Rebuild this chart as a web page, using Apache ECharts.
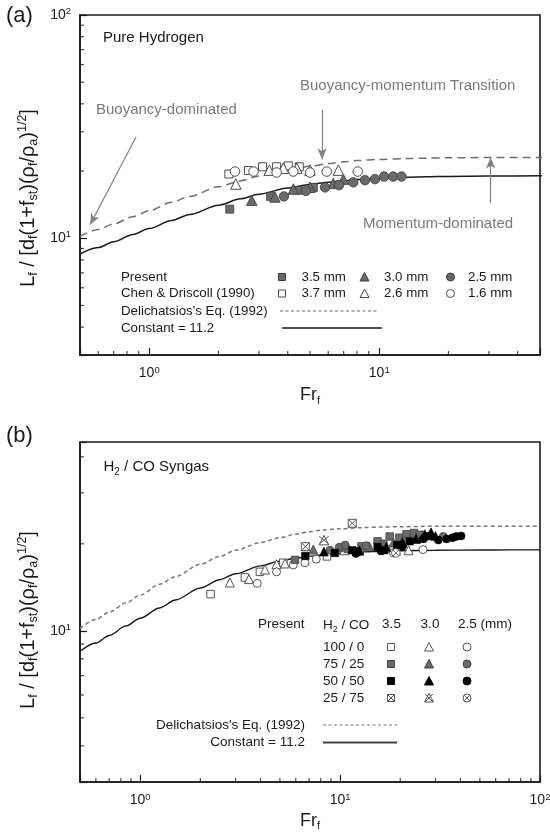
<!DOCTYPE html>
<html><head><meta charset="utf-8">
<script src="https://cdn.jsdelivr.net/npm/echarts@6/dist/echarts.min.js"></script>
<style>html,body{margin:0;padding:0;background:#fff}#c{width:550px;height:839px}</style>
</head><body><div id="c"></div>
<script>
const FONT = '"Liberation Sans", Arial, Helvetica, sans-serif';

// ---------- axis ranges & tick values ----------
const xRangeA = [0.5, 50];
const yRangeA = [3, 100];
const xRangeB = [0.5, 100];
const yRangeB = [3, 45];
const xMinorA = [0.6, 0.7, 0.8, 0.9, 2, 3, 4, 5, 6, 7, 8, 9, 20, 30, 40];
const yMinorA = [4, 5, 6, 7, 8, 9, 20, 30, 40, 50, 60, 70, 80, 90];
const xMinorB = [0.6, 0.7, 0.8, 0.9, 2, 3, 4, 5, 6, 7, 8, 9, 20, 30, 40, 50, 60, 70, 80, 90];
const yMinorB = [4, 5, 6, 7, 8, 9, 20, 30, 40];

// ---------- model curves ----------
const curveFr       = [0.5, 0.6, 0.7, 0.85, 1, 1.25, 1.5, 2, 2.5, 3, 4, 5, 6, 7, 8, 10, 13, 16, 20, 30, 50, 70, 100];
const delichatsiosY = [10.2, 10.95, 11.6, 12.5, 13.3, 14.5, 15.4, 17.0, 18.1, 19.0, 20.2, 21.0, 21.6, 22.0, 22.3, 22.55, 22.75, 22.85, 22.92, 23.0, 23.0, 23.0, 23.0];
const constantY     = [8.5, 9.08, 9.64, 10.4, 11.05, 12.0, 12.78, 14.07, 15.03, 15.76, 16.78, 17.42, 17.83, 18.11, 18.31, 18.56, 18.75, 18.86, 18.93, 19.0, 19.04, 19.05, 19.05];

// ---------- panel (a): pure hydrogen ----------
const presentA35 = [[2.24, 13.5], [3.37, 15.4], [4.45, 16.4], [5.17, 16.9]];
const presentA30 = [[2.79, 14.8], [3.52, 15.3], [4.23, 16.6], [5.0, 16.9], [6.31, 17.6], [6.98, 18.4]];
const presentA25 = [[3.85, 15.4], [4.8, 16.3], [5.81, 16.9], [6.69, 17.3], [7.71, 17.8], [8.67, 18.2], [9.58, 18.4], [10.5, 18.9], [11.5, 18.9], [12.5, 18.9]];
const chenA37 = [[2.22, 19.4], [2.7, 20.1], [3.11, 20.9], [3.58, 20.9], [4.02, 21.1], [4.49, 20.9]];
const chenA26 = [[2.38, 17.5], [3.33, 20.2], [3.83, 20.6], [4.38, 20.6], [5.0, 20.2], [6.64, 20.2]];
const chenA16 = [[2.36, 19.9], [2.84, 19.9], [3.58, 19.7], [4.23, 19.9], [5.0, 19.7], [5.91, 19.9], [8.06, 19.9]];
const arrowsA = [
  [[0.876, 28.4], [0.553, 11.5]],
  [[5.64, 37.5], [5.64, 22.6]],
  [[30.5, 14.4], [30.5, 23.0]]
];

// ---------- panel (b): H2/CO syngas ----------
const b100_35 = [[2.25, 13.4], [3.34, 15.3], [3.97, 16.0], [5.2, 17.2], [8.6, 18.1], [12.5, 18.8], [17.0, 19.2]];
const b100_30 = [[2.81, 14.7], [3.5, 15.1], [4.21, 16.3], [4.81, 17.0], [5.3, 17.1], [10.5, 19.0], [19.0, 18.9], [22.0, 19.0]];
const b100_25 = [[3.85, 14.6], [4.81, 16.0], [5.83, 16.9], [6.67, 17.2], [7.6, 17.7], [12.0, 18.6], [18.5, 18.6], [26.0, 19.1]];
const b75_35  = [[5.95, 17.6], [10.2, 19.4], [12.8, 19.6], [15.4, 20.4], [17.7, 21.2], [19.8, 21.0], [21.5, 21.6], [23.4, 21.8], [25.0, 21.5]];
const b75_30  = [[7.34, 19.1], [11.0, 19.3], [14.0, 19.6], [18.5, 20.2], [24.0, 20.9], [28.5, 21.8]];
const b75_25  = [[8.9, 19.0], [9.9, 19.45], [10.6, 19.8], [13.5, 19.7], [16.5, 20.0], [21.0, 20.5], [27.0, 21.2], [32.8, 21.2]];
const b50_35  = [[6.7, 18.15], [9.42, 18.6], [11.5, 19.0], [12.1, 18.8], [15.4, 19.5], [16.6, 19.0], [19.3, 19.8], [22.3, 20.4]];
const b50_30  = [[8.3, 18.8], [12.5, 19.0], [17.0, 19.5], [20.5, 20.2], [24.0, 20.8], [26.5, 21.6], [28.5, 21.9], [30.0, 21.3]];
const b50_25  = [[12.0, 18.5], [16.0, 18.9], [20.5, 19.6], [26.1, 20.8], [28.1, 21.3], [31.0, 20.6], [34.1, 20.8], [36.5, 21.0], [38.1, 21.2], [40.3, 21.3]];
const b25_35  = [[6.7, 19.55], [11.5, 23.55]];
const b25_30  = [[8.3, 20.6]];
const b25_25  = [[19.0, 18.6]];

// ---------- helpers ----------
const zip = (xs, ys) => xs.map((x, i) => [x, ys[i]]);
function powLabel(v) {
  const l = Math.log10(v);
  if (Math.abs(l - Math.round(l)) > 1e-6) return '';
  return '10{s|' + Math.round(l) + '}';
}
const INK = '#1a1a1a';
const supRich = { s: { fontSize: 9.5, verticalAlign: 'top', padding: [0, 0, 5, 0], fontFamily: FONT, color: INK } };

function xAxisCfg(grid, range, nameGap) {
  return {
    gridIndex: grid, type: 'log', logBase: 10, min: range[0], max: range[1],
    axisLine: { show: true, onZero: false, lineStyle: { color: INK, width: 1.6 } },
    axisTick: { show: true, inside: true, length: 7, lineStyle: { color: INK, width: 1.2 } },
    axisLabel: { show: true, formatter: powLabel, margin: 10, color: INK, fontSize: 14, fontFamily: FONT, lineHeight: 17, rich: supRich, hideOverlap: false },
    splitLine: { show: false }, minorTick: { show: false },
    name: 'Fr{s|f}', nameLocation: 'middle', nameGap: nameGap,
    nameTextStyle: { fontSize: 18, fontFamily: FONT, color: INK, lineHeight: 22,
      rich: { s: { fontSize: 11, verticalAlign: 'bottom', lineHeight: 11, fontFamily: FONT, color: INK } } }
  };
}
function yAxisCfg(grid, range) {
  return {
    gridIndex: grid, type: 'log', logBase: 10, min: range[0], max: range[1],
    axisLine: { show: true, onZero: false, lineStyle: { color: INK, width: 1.6 } },
    axisTick: { show: true, inside: true, length: 7, lineStyle: { color: INK, width: 1.2 } },
    axisLabel: { show: true, formatter: powLabel, margin: 9, color: INK, fontSize: 14, fontFamily: FONT, lineHeight: 17, rich: supRich, hideOverlap: false },
    splitLine: { show: false }, minorTick: { show: false }
  };
}
function tickSeries(idx, pts, size, offset) {
  return { type: 'scatter', xAxisIndex: idx, yAxisIndex: idx, data: pts, symbol: 'rect',
    symbolSize: size, symbolOffset: offset, itemStyle: { color: INK }, silent: true, clip: false, z: 6 };
}
function lineSeries(idx, name, ys, color, width, dash, extra) {
  return Object.assign({ type: 'line', name: name, xAxisIndex: idx, yAxisIndex: idx, data: zip(curveFr, ys),
    symbol: 'none', smooth: 0.3, smoothMonotone: 'x', silent: true,
    lineStyle: { color: color, width: width, type: dash } }, extra || {});
}
function scat(idx, name, data, symbol, size, fill, stroke, bw) {
  return { type: 'scatter', name: name, xAxisIndex: idx, yAxisIndex: idx, data: data, symbol: symbol,
    symbolSize: size, z: 4, itemStyle: { color: fill, borderColor: stroke, borderWidth: bw, opacity: 1 } };
}
const SQX = 'path://M0,0L10,0L10,10L0,10Z M0,0L10,10 M10,0L0,10';
const TRX = 'path://M5,0L10,10L0,10Z M0,1L10,9 M10,1L0,9';
const CIX = 'path://M10,5A5,5,0,1,1,0,5A5,5,0,1,1,10,5Z M1.6,1.6L8.4,8.4 M8.4,1.6L1.6,8.4';

const GRAY = '#6a6a6a', GRAYEDGE = '#3c3c3c', OPEN = '#4a4a4a';

// ---------- graphic helpers (legend + annotations) ----------
function gText(x, y, text, opts) {
  return { type: 'text', x: x, y: y, silent: true, z: 100,
    style: Object.assign({ text: text, fill: INK, fontSize: 13.3, fontFamily: FONT,
      align: 'left', verticalAlign: 'middle', textAlign: 'left', textVerticalAlign: 'middle' }, opts || {}) };
}
function gSym(kind, cx, cy, s, fill, stroke) {
  const st = { fill: fill, stroke: stroke, lineWidth: 1 };
  const out = [];
  const h = s / 2;
  if (kind === 'sq' || kind === 'sqx') out.push({ type: 'rect', shape: { x: cx - h, y: cy - h, width: s, height: s }, style: st, z: 100, silent: true });
  if (kind === 'tr' || kind === 'trx') out.push({ type: 'polygon', shape: { points: [[cx, cy - h - 0.5], [cx + h + 0.5, cy + h], [cx - h - 0.5, cy + h]] }, style: st, z: 100, silent: true });
  if (kind === 'ci' || kind === 'cix') out.push({ type: 'circle', shape: { cx: cx, cy: cy, r: h }, style: st, z: 100, silent: true });
  if (kind.endsWith('x')) {
    const k = kind === 'cix' ? h * 0.7 : h;
    out.push({ type: 'line', shape: { x1: cx - k, y1: cy - k, x2: cx + k, y2: cy + k }, style: { stroke: stroke, lineWidth: 1 }, z: 101, silent: true });
    out.push({ type: 'line', shape: { x1: cx + k, y1: cy - k, x2: cx - k, y2: cy + k }, style: { stroke: stroke, lineWidth: 1 }, z: 101, silent: true });
  }
  return out;
}
function gLine(x1, x2, y, stroke, w, dash) {
  return { type: 'line', shape: { x1: x1, y1: y, x2: x2, y2: y }, style: { stroke: stroke, lineWidth: w, lineDash: dash || null }, z: 100, silent: true };
}

const subRich = { sub: { fontSize: 12.5, verticalAlign: 'bottom', lineHeight: 12, fontFamily: FONT, fill: INK } ,
                  sup: { fontSize: 12.5, verticalAlign: 'top', lineHeight: 12, fontFamily: FONT, fill: INK } };
const yTitle = 'L{sub|f} / [d{sub|f}(1+f{sub|st})(\u03C1{sub|f}/\u03C1{sub|a}){sup|1/2}]';

let graphics = [];
// panel labels
graphics.push(gText(6, 16, '(a)', { fontSize: 22 }));
graphics.push(gText(6, 436, '(b)', { fontSize: 22 }));
// y titles
[[28, 198], [28, 620]].forEach(p => {
  graphics.push({ type: 'text', x: p[0], y: p[1], rotation: Math.PI / 2, silent: true, z: 100,
    style: { text: yTitle, fill: INK, fontSize: 20, fontFamily: FONT, lineHeight: 24, rich: subRich,
      align: 'center', verticalAlign: 'middle', textAlign: 'center', textVerticalAlign: 'middle' } });
});
// panel (a) annotations
graphics.push(gText(103, 37.5, 'Pure Hydrogen', { fontSize: 15 }));
graphics.push(gText(96, 110, 'Buoyancy-dominated', { fontSize: 15, fill: '#7a7a7a' }));
graphics.push(gText(300, 86, 'Buoyancy-momentum Transition', { fontSize: 15, fill: '#7a7a7a' }));
graphics.push(gText(363, 223.5, 'Momentum-dominated', { fontSize: 15, fill: '#7a7a7a' }));
// panel (a) legend
graphics.push(gText(121, 277, 'Present'));
graphics.push(gText(121, 293.5, 'Chen & Driscoll (1990)'));
graphics.push(gText(121, 311, "Delichatsios's Eq. (1992)"));
graphics.push(gText(121, 328, 'Constant = 11.2'));
graphics = graphics.concat(gSym('sq', 282, 277, 7, GRAY, GRAYEDGE), gSym('tr', 364.5, 277, 8, GRAY, GRAYEDGE), gSym('ci', 450.5, 277, 8, GRAY, GRAYEDGE));
graphics = graphics.concat(gSym('sq', 282, 293.5, 7, '#fff', OPEN), gSym('tr', 364.5, 293.5, 8, '#fff', OPEN), gSym('ci', 450.5, 293.5, 8, '#fff', OPEN));
graphics.push(gText(301.5, 277, '3.5 mm'), gText(384, 277, '3.0 mm'), gText(468, 277, '2.5 mm'));
graphics.push(gText(301.5, 293.5, '3.7 mm'), gText(384, 293.5, '2.6 mm'), gText(468, 293.5, '1.6 mm'));
graphics.push(gLine(280, 377, 311, '#666', 1, [3, 2.5]));
graphics.push(gLine(282, 382, 328, INK, 1.3));
// panel (b) annotations & legend
graphics.push(gText(103.5, 467, 'H{sub|2} / CO Syngas', { fontSize: 15, lineHeight: 20,
  rich: { sub: { fontSize: 10, verticalAlign: 'bottom', lineHeight: 10, fontFamily: FONT, fill: INK } } }));
graphics.push(gText(258, 624, 'Present', { fontSize: 13.5 }));
graphics.push(gText(323, 625.5, 'H{sub|2} / CO', { fontSize: 13.5, lineHeight: 18,
  rich: { sub: { fontSize: 9, verticalAlign: 'bottom', lineHeight: 9, fontFamily: FONT, fill: INK } } }));
graphics.push(gText(391.5, 624, '3.5', { fontSize: 13.5, align: 'center', textAlign: 'center' }));
graphics.push(gText(430, 624, '3.0', { fontSize: 13.5, align: 'center', textAlign: 'center' }));
graphics.push(gText(458, 624, '2.5 (mm)', { fontSize: 13.5 }));
const rowY = [647, 664, 681, 698];
['100 / 0', '75 / 25', '50 / 50', '25 / 75'].forEach((t, i) => graphics.push(gText(323, rowY[i], t, { fontSize: 13.5 })));
const colX = [391, 429, 467];
const rowStyles = [['#fff', '#555'], [GRAY, '#444'], ['#000', '#000'], ['#fff', '#555']];
rowStyles.forEach((rs, i) => {
  const kinds = i === 3 ? ['sqx', 'trx', 'cix'] : ['sq', 'tr', 'ci'];
  kinds.forEach((k, j) => { graphics = graphics.concat(gSym(k, colX[j], rowY[i], k.startsWith('sq') ? 7 : 8, rs[0], rs[1])); });
});
graphics.push(gText(305, 725, "Delichatsios's Eq. (1992)", { fontSize: 13.5, align: 'right', textAlign: 'right' }));
graphics.push(gText(305, 742.5, 'Constant = 11.2', { fontSize: 13.5, align: 'right', textAlign: 'right' }));
graphics.push(gLine(323, 397, 725, '#777', 1.2, [3, 2.5]));
graphics.push(gLine(323, 397, 742.5, '#444', 1.8));

// ---------- option ----------
const option = {
  animation: false,
  backgroundColor: '#fff',
  textStyle: { fontFamily: FONT },
  grid: [
    { left: 80, top: 15, width: 460, height: 340, show: true, borderColor: INK, borderWidth: 1.6, containLabel: false, outerBoundsMode: 'none' },
    { left: 80, top: 442, width: 460, height: 340, show: true, borderColor: INK, borderWidth: 1.6, containLabel: false, outerBoundsMode: 'none' }
  ],
  xAxis: [xAxisCfg(0, xRangeA, 29), xAxisCfg(1, xRangeB, 25)],
  yAxis: [yAxisCfg(0, yRangeA), yAxisCfg(1, yRangeB)],
  graphic: { elements: graphics },
  series: [
    // panel (a)
    lineSeries(0, "Delichatsios's Eq. (1992)", delichatsiosY, '#6e6e6e', 1.5, [8, 5], {
      markLine: { silent: true, symbol: ['none', 'arrow'], symbolSize: [7, 11], animation: false,
        label: { show: false }, lineStyle: { color: '#808080', width: 1.2, type: 'solid' },
        data: arrowsA.map(a => [{ coord: a[0] }, { coord: a[1] }]) } }),
    lineSeries(0, 'Constant = 11.2', constantY, INK, 1.5, 'solid'),
    scat(0, 'Present 3.5 mm', presentA35, 'rect', 8, GRAY, GRAYEDGE, 0.8),
    scat(0, 'Present 3.0 mm', presentA30, 'triangle', 10.5, GRAY, GRAYEDGE, 0.8),
    scat(0, 'Present 2.5 mm', presentA25, 'circle', 9.5, GRAY, GRAYEDGE, 0.8),
    scat(0, 'Chen & Driscoll 3.7 mm', chenA37, 'rect', 8, '#fff', OPEN, 1),
    scat(0, 'Chen & Driscoll 2.6 mm', chenA26, 'triangle', 10.5, '#fff', OPEN, 1),
    scat(0, 'Chen & Driscoll 1.6 mm', chenA16, 'circle', 9.5, '#fff', OPEN, 1),
    tickSeries(0, xMinorA.map(v => [v, yRangeA[0]]), [1.2, 4], [0, -2]),
    tickSeries(0, yMinorA.map(v => [xRangeA[0], v]), [4, 1.2], [2, 0]),
    // panel (b)
    lineSeries(1, "Delichatsios's Eq. (1992) b", delichatsiosY, '#777', 1.5, [4, 3]),
    lineSeries(1, 'Constant = 11.2 b', constantY, INK, 1.4, 'solid'),
    scat(1, '100/0 3.5', b100_35, 'rect', 7.5, '#fff', '#555', 1),
    scat(1, '100/0 3.0', b100_30, 'triangle', 9, '#fff', '#555', 1),
    scat(1, '100/0 2.5', b100_25, 'circle', 8, '#fff', '#555', 1),
    scat(1, '75/25 3.5', b75_35, 'rect', 7.5, GRAY, '#444', 0.8),
    scat(1, '75/25 3.0', b75_30, 'triangle', 9, GRAY, '#444', 0.8),
    scat(1, '75/25 2.5', b75_25, 'circle', 8, GRAY, '#444', 0.8),
    scat(1, '50/50 3.5', b50_35, 'rect', 7.5, '#000', '#000', 0.5),
    scat(1, '50/50 3.0', b50_30, 'triangle', 9, '#000', '#000', 0.5),
    scat(1, '50/50 2.5', b50_25, 'circle', 8, '#000', '#000', 0.5),
    scat(1, '25/75 3.5', b25_35, SQX, 8, '#fff', '#555', 1),
    scat(1, '25/75 3.0', b25_30, TRX, 9.5, '#fff', '#555', 1),
    scat(1, '25/75 2.5', b25_25, CIX, 8.5, '#fff', '#555', 1),
    tickSeries(1, xMinorB.map(v => [v, yRangeB[0]]), [1.2, 4], [0, -2]),
    tickSeries(1, yMinorB.map(v => [xRangeB[0], v]), [4, 1.2], [2, 0])
  ]
};
const chart = echarts.init(document.getElementById('c'), null, { renderer: 'canvas' });
chart.setOption(option);
</script></body></html>
